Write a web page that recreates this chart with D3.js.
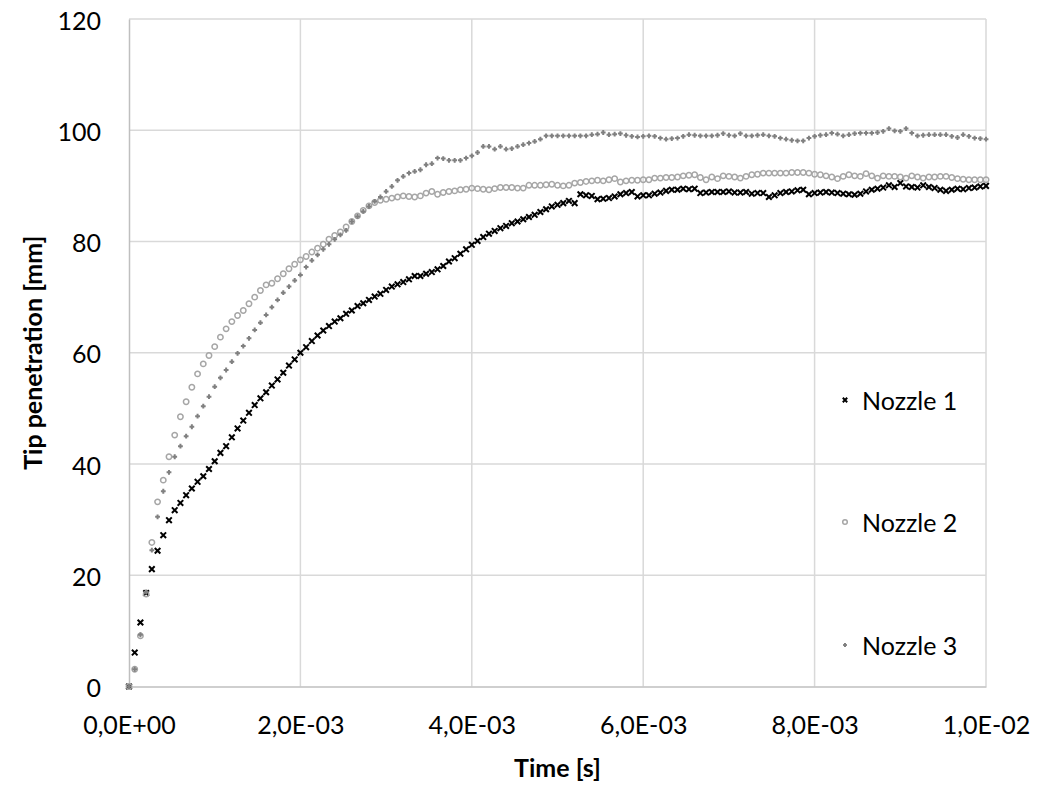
<!DOCTYPE html>
<html>
<head>
<meta charset="utf-8">
<script src="https://cdn.jsdelivr.net/npm/d3@7"></script>
<style>
  html, body { margin: 0; padding: 0; background: #fff; }
  svg { display: block; }
  text { font-family: Lato, "Open Sans", sans-serif; fill: #000; }
</style>
</head>
<body>
<svg id="chart" width="1046" height="785"></svg>
<script>
// ---- data ----
const timeStep = 6.667e-5;               // s between samples
const seriesNames = ["Nozzle 1", "Nozzle 2", "Nozzle 3"];
const nozzle1 = [
  0, 6.1, 11.5, 16.8, 21.1, 24.4, 27.2, 29.9, 31.7, 33.0,
  34.4, 35.6, 36.8, 37.8, 39.1, 40.5, 42.0, 43.2, 44.8, 46.4,
  47.8, 49.2, 50.6, 51.8, 52.9, 54.1, 55.2, 56.4, 57.7, 58.8,
  60.0, 61.0, 62.1, 63.1, 64.0, 64.8, 65.6, 66.2, 67.0, 67.6,
  68.4, 68.9, 69.5, 70.1, 70.6, 71.3, 71.9, 72.3, 72.7, 73.2,
  73.8, 73.8, 74.2, 74.5, 75.0, 75.6, 76.4, 77.0, 77.8, 78.6,
  79.4, 80.1, 80.8, 81.4, 81.9, 82.4, 82.8, 83.3, 83.6, 84.0,
  84.4, 84.8, 85.3, 85.8, 86.3, 86.6, 86.9, 87.3, 86.9, 88.5,
  88.3, 88.2, 87.6, 87.7, 87.8, 88.1, 88.5, 88.7, 88.9, 88.1,
  88.3, 88.3, 88.6, 88.8, 89.1, 89.3, 89.3, 89.5, 89.4, 89.5,
  88.7, 88.8, 88.9, 88.9, 88.9, 89.0, 88.8, 88.8, 88.9, 88.6,
  88.7, 88.7, 88.0, 88.3, 88.7, 88.9, 89.0, 89.2, 89.3, 88.5,
  88.7, 88.8, 88.9, 88.8, 88.7, 88.6, 88.5, 88.4, 88.6, 89.0,
  89.3, 89.5, 89.7, 90.1, 89.8, 90.5, 89.9, 89.8, 89.7, 90.1,
  89.8, 89.6, 89.3, 89.1, 89.3, 89.5, 89.4, 89.6, 89.7, 89.9,
  90.0
];
const nozzle2 = [
  0, 3.1, 9.1, 16.6, 25.9, 33.2, 37.1, 41.3, 45.2, 48.5,
  51.2, 53.8, 56.2, 58.0, 59.5, 61.1, 62.8, 64.3, 65.6, 66.7,
  67.6, 68.8, 70.0, 71.2, 72.2, 72.5, 73.3, 74.2, 75.1, 75.9,
  76.7, 77.3, 78.1, 78.8, 79.5, 80.4, 81.1, 81.7, 82.6, 83.6,
  84.6, 85.6, 86.4, 87.0, 87.4, 87.6, 87.8, 88.0, 88.2, 88.1,
  88.0, 88.2, 88.7, 89.0, 88.5, 88.8, 89.0, 89.1, 89.3, 89.4,
  89.6, 89.5, 89.4, 89.3, 89.5, 89.7, 89.7, 89.7, 89.6, 89.6,
  90.1, 90.1, 90.1, 90.2, 90.3, 90.1, 90.0, 90.1, 90.5, 90.6,
  90.8, 90.9, 91.0, 90.9, 91.1, 91.3, 90.7, 90.9, 91.0, 91.0,
  91.1, 91.1, 91.4, 91.4, 91.5, 91.5, 91.6, 91.8, 91.9, 92.0,
  91.5, 91.1, 91.6, 91.3, 91.8, 91.7, 91.6, 91.4, 91.7, 92.0,
  92.1, 92.3, 92.3, 92.3, 92.3, 92.3, 92.4, 92.4, 92.4, 92.3,
  92.1, 92.0, 91.8, 91.6, 91.3, 91.7, 92.0, 91.8, 91.7, 92.2,
  91.8, 91.4, 91.8, 91.7, 91.7, 91.6, 91.4, 91.8, 91.6, 91.4,
  91.6, 91.6, 91.7, 91.7, 91.5, 91.3, 91.2, 91.1, 91.1, 91.1,
  91.1
];
const nozzle3 = [
  0, 3.1, 9.3, 17.0, 24.5, 30.5, 35.1, 38.5, 41.3, 43.2,
  45.0, 46.7, 48.6, 50.4, 52.1, 53.9, 55.5, 56.9, 58.4, 59.9,
  61.2, 62.6, 64.1, 65.4, 66.8, 68.2, 69.5, 70.8, 71.9, 73.0,
  74.0, 75.4, 76.6, 77.6, 78.6, 79.5, 80.4, 81.2, 82.0, 83.6,
  84.5, 85.4, 86.3, 87.2, 88.0, 89.0, 89.9, 91.0, 91.7, 92.3,
  92.6, 92.9, 93.8, 94.0, 95.0, 94.9, 94.6, 94.6, 94.6, 95.0,
  95.4, 96.0, 97.1, 97.1, 96.6, 97.1, 96.6, 96.7, 97.1, 97.4,
  97.7, 98.0, 98.4, 99.0, 99.0, 99.0, 99.0, 99.0, 99.0, 99.0,
  99.0, 99.2, 99.3, 99.6, 99.2, 99.3, 99.4, 99.1, 98.9, 98.8,
  98.9, 99.0, 98.9, 98.6, 98.4, 98.5, 98.6, 98.9, 99.2, 99.1,
  99.0, 99.0, 99.0, 99.1, 99.4, 99.1, 99.0, 99.4, 99.0, 99.0,
  99.1, 99.2, 99.0, 98.9, 98.6, 98.4, 98.2, 98.1, 98.1, 98.6,
  98.9, 99.1, 99.2, 99.5, 99.3, 99.0, 99.2, 99.4, 99.5, 99.5,
  99.5, 99.6, 99.8, 100.3, 99.9, 99.8, 100.3, 99.5, 99.0, 99.1,
  99.2, 99.2, 99.2, 99.2, 98.9, 98.7, 99.2, 98.9, 98.6, 98.5,
  98.4
];
const xTickValues = [0, 0.002, 0.004, 0.006, 0.008, 0.010];
const xTickLabels = ["0,0E+00", "2,0E-03", "4,0E-03", "6,0E-03", "8,0E-03", "1,0E-02"];
const yTickValues = [0, 20, 40, 60, 80, 100, 120];
const xTitle = "Time [s]";
const yTitle = "Tip penetration [mm]";

(function () {
const svg = d3.select("#chart");
const pL = 129, pR = 986, pT = 19, pB = 686.5;
const x = d3.scaleLinear().domain([0, 0.01]).range([pL, pR]);
const y = d3.scaleLinear().domain([0, 120]).range([pB, pT]);
const FONT = 25;

// gridlines
const grid = svg.append("g");
grid.selectAll("line.h").data(yTickValues.filter(v => v > 0)).join("line")
  .attr("x1", pL).attr("x2", pR)
  .attr("y1", d => y(d)).attr("y2", d => y(d))
  .attr("stroke", "#D9D9D9").attr("stroke-width", 1.5);
grid.selectAll("line.v").data(xTickValues.filter(v => v > 0)).join("line")
  .attr("y1", pT).attr("y2", pB)
  .attr("x1", d => x(d)).attr("x2", d => x(d))
  .attr("stroke", "#D9D9D9").attr("stroke-width", 1.5);

const xAxis = d3.axisBottom(x).tickValues(xTickValues)
  .tickFormat((d, i) => xTickLabels[i]).tickSize(0).tickPadding(30);
const yAxis = d3.axisLeft(y).tickValues(yTickValues).tickSize(0).tickPadding(28);

const gx = svg.append("g").attr("transform", `translate(0,${pB})`).call(xAxis);
const gy = svg.append("g").attr("transform", `translate(${pL},0)`).call(yAxis);
[gx, gy].forEach(g => {
  g.select(".domain").attr("stroke", "#BFBFBF").attr("stroke-width", 1.5);
  g.selectAll("text").attr("font-family", "Lato").attr("font-size", FONT).attr("fill", "#000");
});
gx.selectAll("text").attr("dy", null).attr("dominant-baseline", "auto").attr("y", 47.5);
gy.selectAll("text").attr("dy", null).attr("dominant-baseline", "central");

// axis titles
svg.append("text").attr("x", (pL + pR) / 2).attr("y", 777)
  .attr("text-anchor", "middle").attr("font-weight", "bold").attr("font-size", FONT)
  .text(xTitle);
svg.append("text")
  .attr("transform", `translate(42,${(pT + pB) / 2}) rotate(-90)`)
  .attr("text-anchor", "middle").attr("font-weight", "bold").attr("font-size", FONT)
  .text(yTitle);

const styles = [
  { color: "#000000", kind: "x" },
  { color: "#A6A6A6", kind: "o" },
  { color: "#808080", kind: "+" }
];
function drawMarker(g, kind, color, s) {
  if (kind === "x") {
    g.append("path").attr("d", `M${-s},${-s}L${s},${s}M${-s},${s}L${s},${-s}`)
      .attr("stroke", color).attr("stroke-width", 2).attr("fill", "none");
  } else if (kind === "o") {
    g.append("circle").attr("r", s).attr("fill", "none")
      .attr("stroke", color).attr("stroke-width", 1.5);
  } else {
    g.append("path").attr("d", `M${-s},0L${s},0M0,${-s}L0,${s}`)
      .attr("stroke", color).attr("stroke-width", 2).attr("fill", "none");
  }
}

const allSeries = [nozzle1, nozzle2, nozzle3];
const sizes = [2.8, 2.7, 2.4];
allSeries.forEach((vals, si) => {
  const g = svg.append("g");
  vals.forEach((v, k) => {
    const m = g.append("g").attr("transform", `translate(${x(k * timeStep)},${y(v)})`);
    drawMarker(m, styles[si].kind, styles[si].color, sizes[si]);
  });
});

// legend
const legendY = [400, 522, 645];
const legendSizes = [2.2, 2.3, 1.9];
seriesNames.forEach((name, i) => {
  const m = svg.append("g").attr("transform", `translate(845,${legendY[i]})`);
  drawMarker(m, styles[i].kind, styles[i].color, legendSizes[i]);
  svg.append("text").attr("x", 862).attr("y", legendY[i])
    .attr("dominant-baseline", "central").attr("font-size", FONT).text(name);
});
})();
</script>
</body>
</html>
